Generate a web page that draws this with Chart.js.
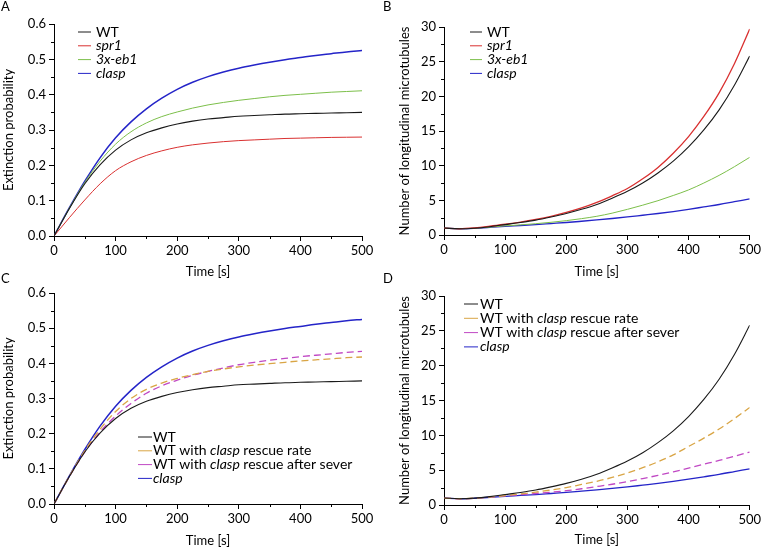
<!DOCTYPE html>
<html>
<head>
<meta charset="utf-8">
<script src="https://cdn.jsdelivr.net/npm/chart.js@4.4.1/dist/chart.umd.min.js"></script>
<style>
  html, body { margin: 0; padding: 0; background: #fff; overflow: hidden; width: 763px; height: 547px; }
  .panel { position: absolute; }
  .letter { position: absolute; font: 13px Lato, sans-serif; color: #000; line-height: 13px; }
</style>
</head>
<body>
<div class="panel" style="left:0;top:0;width:381px;height:285px"><canvas id="chartA"></canvas></div>
<div class="panel" style="left:381px;top:0;width:382px;height:285px"><canvas id="chartB"></canvas></div>
<div class="panel" style="left:0;top:273px;width:381px;height:274px"><canvas id="chartC"></canvas></div>
<div class="panel" style="left:381px;top:273px;width:382px;height:274px"><canvas id="chartD"></canvas></div>
<div class="letter" style="left:1px;top:0px">A</div>
<div class="letter" style="left:383px;top:0px">B</div>
<div class="letter" style="left:1px;top:272px">C</div>
<div class="letter" style="left:383px;top:272px">D</div>
<script>
// time points (s), every 25 s
const times = [0, 25, 50, 75, 100, 125, 150, 175, 200, 225, 250, 275, 300, 325, 350, 375, 400, 425, 450, 475, 500];

// extinction probability
const extWT = [0, 0.078, 0.148, 0.202, 0.243, 0.272, 0.292, 0.306, 0.317, 0.325, 0.331, 0.335, 0.339, 0.341, 0.343, 0.345, 0.346, 0.347, 0.348, 0.349, 0.35];
const extSpr1 = [0, 0.052, 0.102, 0.148, 0.185, 0.21, 0.228, 0.241, 0.251, 0.258, 0.263, 0.267, 0.27, 0.272, 0.274, 0.276, 0.277, 0.278, 0.279, 0.2795, 0.28];
const extEb1 = [0, 0.079, 0.152, 0.212, 0.26, 0.295, 0.32, 0.338, 0.351, 0.362, 0.371, 0.378, 0.384, 0.389, 0.394, 0.398, 0.401, 0.404, 0.407, 0.409, 0.411];
const extClasp = [0, 0.08, 0.155, 0.222, 0.278, 0.323, 0.36, 0.39, 0.415, 0.435, 0.451, 0.464, 0.475, 0.484, 0.492, 0.499, 0.505, 0.511, 0.516, 0.521, 0.525];
const extRescueRate = [0, 0.079, 0.152, 0.213, 0.263, 0.3, 0.326, 0.344, 0.357, 0.368, 0.377, 0.384, 0.39, 0.395, 0.399, 0.403, 0.407, 0.41, 0.413, 0.416, 0.418];
const extRescueSever = [0, 0.078, 0.148, 0.205, 0.25, 0.286, 0.315, 0.336, 0.352, 0.366, 0.377, 0.387, 0.396, 0.403, 0.409, 0.414, 0.419, 0.423, 0.427, 0.431, 0.434];

// number of longitudinal microtubules
const numWT = [1.0, 0.9, 0.98, 1.2, 1.5, 1.8, 2.15, 2.6, 3.1, 3.7, 4.4, 5.3, 6.3, 7.5, 8.95, 10.65, 12.7, 15.15, 18.05, 21.6, 25.8];
const numSpr1 = [1.0, 0.9, 1.02, 1.26, 1.55, 1.87, 2.25, 2.7, 3.25, 3.9, 4.7, 5.65, 6.7, 8.1, 9.75, 11.8, 14.2, 17.1, 20.5, 24.7, 29.7];
const numEb1 = [1.0, 0.9, 0.98, 1.13, 1.32, 1.46, 1.63, 1.83, 2.07, 2.36, 2.7, 3.15, 3.7, 4.3, 4.95, 5.7, 6.5, 7.5, 8.6, 9.85, 11.2];
const numClasp = [1.0, 0.9, 0.97, 1.1, 1.25, 1.37, 1.5, 1.65, 1.8, 1.98, 2.17, 2.38, 2.6, 2.85, 3.1, 3.38, 3.7, 4.05, 4.4, 4.8, 5.2];
const numRescueRate = [1.0, 0.9, 0.98, 1.14, 1.35, 1.6, 1.85, 2.15, 2.5, 2.95, 3.4, 3.95, 4.6, 5.35, 6.2, 7.2, 8.4, 9.6, 10.9, 12.4, 14.0];
const numRescueSever = [1.0, 0.9, 0.97, 1.12, 1.3, 1.47, 1.65, 1.84, 2.05, 2.33, 2.65, 2.98, 3.35, 3.8, 4.25, 4.75, 5.3, 5.85, 6.4, 7.0, 7.6];

// legend labels: [text, italic]
const legendAB = [[['WT', 0]], [['spr1', 1]], [['3x-eb1', 1]], [['clasp', 1]]];
const legendCD = [
  [['WT', 0]],
  [['WT with ', 0], ['clasp', 1], [' rescue rate', 0]],
  [['WT with ', 0], ['clasp', 1], [' rescue after sever', 0]],
  [['clasp', 1]],
];

const FONT = 'Lato, "Open Sans", sans-serif';
Chart.defaults.font.family = FONT;
Chart.defaults.font.size = 13;
Chart.defaults.color = '#000';

const COL = {
  wt: '#1a1a1a',
  spr1: '#d93030',
  eb1: '#7cbf4a',
  clasp: '#2424c8',
  rate: '#d9a545',
  sever: '#c048c4',
};

function series(values) {
  return times.map((t, i) => ({ x: t, y: values[i] }));
}

function line(values, color, width, dash) {
  return {
    data: series(values),
    borderColor: color,
    borderWidth: width,
    borderDash: dash || [],
    pointRadius: 0,
    fill: false,
    cubicInterpolationMode: 'monotone',
  };
}

function makeChart(id, o) {
  const W = o.W, H = o.H;
  const isMajorY = (v) => Math.abs(v / o.yMajor - Math.round(v / o.yMajor)) < 1e-6;
  const isMajorX = (v) => v % 100 === 0;

  const extras = {
    id: 'extras_' + id,
    afterDraw(chart) {
      const ctx = chart.ctx, x = chart.scales.x, y = chart.scales.y;
      ctx.save();
      ctx.strokeStyle = '#000';
      ctx.lineWidth = 1;
      // minor ticks
      x.ticks.forEach((t) => {
        if (isMajorX(t.value)) return;
        const px = Math.round(x.getPixelForValue(t.value)) + 0.5;
        ctx.beginPath(); ctx.moveTo(px, x.top); ctx.lineTo(px, x.top + 3); ctx.stroke();
      });
      y.ticks.forEach((t) => {
        if (isMajorY(t.value)) return;
        const py = Math.round(y.getPixelForValue(t.value)) + 0.5;
        ctx.beginPath(); ctx.moveTo(y.right - 3, py); ctx.lineTo(y.right, py); ctx.stroke();
      });
      // legend
      const L = o.legend;
      chart.data.datasets.forEach((ds, i) => {
        const ly = L.y + i * L.gap;
        ctx.strokeStyle = ds.borderColor;
        ctx.lineWidth = 1;
        ctx.beginPath(); ctx.moveTo(L.x, ly); ctx.lineTo(L.x + L.len, ly); ctx.stroke();
        let tx = L.textX;
        ctx.fillStyle = '#000';
        ctx.textBaseline = 'middle';
        L.labels[i].forEach(([txt, it]) => {
          ctx.font = (it ? 'italic ' : '') + '14px ' + FONT;
          ctx.fillText(txt, tx, ly);
          tx += ctx.measureText(txt).width;
        });
      });
      ctx.restore();
    },
  };

  return new Chart(document.getElementById(id), {
    type: 'line',
    data: { datasets: o.datasets },
    options: {
      responsive: true,
      maintainAspectRatio: false,
      animation: false,
      layout: { padding: { top: o.area.top, right: W - o.area.right, left: 0, bottom: 0 } },
      plugins: { legend: { display: false }, tooltip: { enabled: false } },
      scales: {
        x: {
          type: 'linear',
          min: 0,
          max: 500,
          afterFit: (s) => { s.height = H - o.area.bottom; },
          border: { display: true, color: '#000', width: 1 },
          grid: {
            drawOnChartArea: false,
            drawTicks: true,
            tickLength: 5,
            tickColor: (c) => (c.tick && isMajorX(c.tick.value) ? '#000' : 'rgba(0,0,0,0)'),
          },
          ticks: {
            stepSize: 50,
            autoSkip: false,
            maxRotation: 0,
            minRotation: 0,
            padding: 2,
            callback: (v) => (isMajorX(v) ? String(v) : ''),
          },
          title: {
            display: true,
            text: 'Time [s]',
            font: { size: 13, lineHeight: 1 },
            padding: { top: 0, bottom: o.xTitlePad },
          },
        },
        y: {
          type: 'linear',
          min: 0,
          max: o.yMax,
          afterFit: (s) => { s.width = o.area.left; },
          border: { display: true, color: '#000', width: 1 },
          grid: {
            drawOnChartArea: false,
            drawTicks: true,
            tickLength: 5,
            tickColor: (c) => (c.tick && isMajorY(c.tick.value) ? '#000' : 'rgba(0,0,0,0)'),
          },
          ticks: {
            stepSize: o.yMinor,
            autoSkip: false,
            padding: 3,
            callback: (v) => (isMajorY(v) ? v.toFixed(o.yDecimals) : ''),
          },
          title: {
            display: true,
            text: o.yTitle,
            font: { size: 13, lineHeight: 1 },
            padding: { top: o.yTitlePad, bottom: 0 },
          },
        },
      },
    },
    plugins: [extras],
  });
}

makeChart('chartA', {
  W: 381, H: 285,
  area: { left: 54, top: 24, right: 362, bottom: 236 },
  yMax: 0.6, yMinor: 0.05, yMajor: 0.1, yDecimals: 1,
  yTitle: 'Extinction probability', yTitlePad: 2.5, xTitlePad: 6.5,
  datasets: [
    line(extWT, COL.wt, 1.1),
    line(extSpr1, COL.spr1, 1),
    line(extEb1, COL.eb1, 1),
    line(extClasp, COL.clasp, 1.5),
  ],
  legend: { x: 78, len: 13, textX: 96, y: 32, gap: 13.8, labels: legendAB },
});

makeChart('chartB', {
  W: 382, H: 285,
  area: { left: 63, top: 27, right: 371, bottom: 235 },
  yMax: 30, yMinor: 2.5, yMajor: 5, yDecimals: 0,
  yTitle: 'Number of longitudinal microtubules', yTitlePad: 17, xTitlePad: 6.5,
  datasets: [
    line(numWT, COL.wt, 1.1),
    line(numSpr1, COL.spr1, 1.3),
    line(numEb1, COL.eb1, 1),
    line(numClasp, COL.clasp, 1.3),
  ],
  legend: { x: 89, len: 12, textX: 106, y: 32, gap: 13.8, labels: legendAB },
});

makeChart('chartC', {
  W: 381, H: 274,
  area: { left: 54, top: 20, right: 362, bottom: 231 },
  yMax: 0.6, yMinor: 0.05, yMajor: 0.1, yDecimals: 1,
  yTitle: 'Extinction probability', yTitlePad: 2.5, xTitlePad: 0,
  datasets: [
    line(extWT, COL.wt, 1.1),
    line(extRescueRate, COL.rate, 1.3, [7, 4]),
    line(extRescueSever, COL.sever, 1.3, [7, 4]),
    line(extClasp, COL.clasp, 1.5),
  ],
  legend: { x: 138, len: 14, textX: 153, y: 164, gap: 13.8, labels: legendCD },
});

makeChart('chartD', {
  W: 382, H: 274,
  area: { left: 63, top: 23, right: 371, bottom: 232 },
  yMax: 30, yMinor: 2.5, yMajor: 5, yDecimals: 0,
  yTitle: 'Number of longitudinal microtubules', yTitlePad: 17, xTitlePad: 0.5,
  datasets: [
    line(numWT, COL.wt, 1.1),
    line(numRescueRate, COL.rate, 1.3, [7, 4]),
    line(numRescueSever, COL.sever, 1.3, [7, 4]),
    line(numClasp, COL.clasp, 1.3),
  ],
  legend: { x: 83, len: 14, textX: 99, y: 31, gap: 14.3, labels: legendCD },
});
</script>
</body>
</html>
